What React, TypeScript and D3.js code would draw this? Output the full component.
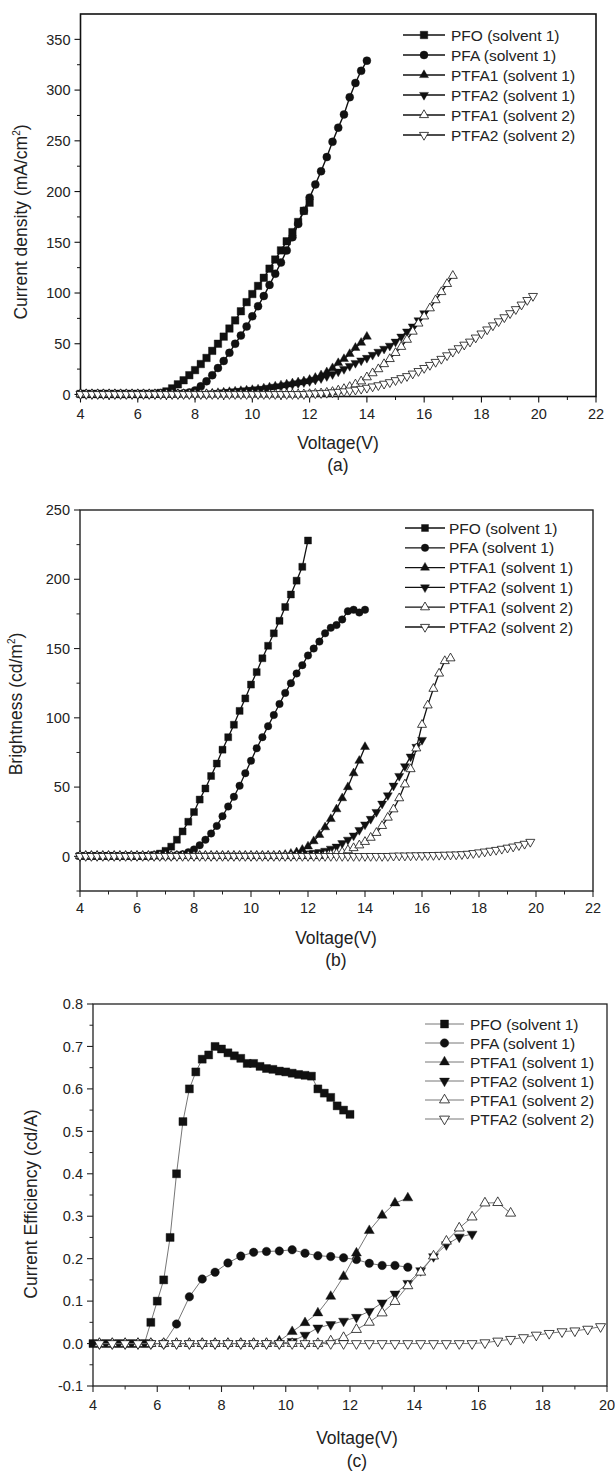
import React from 'react';
import * as d3 from 'd3';

const FONT = "'Liberation Sans', Arial, Helvetica, sans-serif";

// Voltage grid used by panels (a) and (b): 0.2 V steps
const VOLTS = [
  4.0, 4.2, 4.4, 4.6, 4.8, 5.0, 5.2, 5.4, 5.6, 5.8,
  6.0, 6.2, 6.4, 6.6, 6.8, 7.0, 7.2, 7.4, 7.6, 7.8,
  8.0, 8.2, 8.4, 8.6, 8.8, 9.0, 9.2, 9.4, 9.6, 9.8,
  10.0, 10.2, 10.4, 10.6, 10.8, 11.0, 11.2, 11.4, 11.6, 11.8,
  12.0, 12.2, 12.4, 12.6, 12.8, 13.0, 13.2, 13.4, 13.6, 13.8,
  14.0, 14.2, 14.4, 14.6, 14.8, 15.0, 15.2, 15.4, 15.6, 15.8,
  16.0, 16.2, 16.4, 16.6, 16.8, 17.0, 17.2, 17.4, 17.6, 17.8,
  18.0, 18.2, 18.4, 18.6, 18.8, 19.0, 19.2, 19.4, 19.6, 19.8,
];

const SERIES_NAMES = [
  'PFO (solvent 1)',
  'PFA (solvent 1)',
  'PTFA1 (solvent 1)',
  'PTFA2 (solvent 1)',
  'PTFA1 (solvent 2)',
  'PTFA2 (solvent 2)',
];
type Sym = 'square' | 'circle' | 'up' | 'down';
const SERIES_SYMBOLS: Sym[] = ['square', 'circle', 'up', 'down', 'up', 'down'];
const SERIES_FILLED = [true, true, true, true, false, false];

// ---------- (a) Current density (mA/cm2) ----------
const J_PFO = [
  0.5, 0.5, 0.5, 0.5, 0.5, 0.5, 0.5, 0.5, 0.5, 0.5,
  0.5, 0.5, 0.5, 0.8, 1.5, 3, 6, 10, 14, 19,
  24, 30, 36, 43, 50, 57, 65, 73, 82, 91,
  99, 107, 115, 124, 133, 142, 151, 160, 170, 181,
  189,
];
const J_PFA = [
  0.5, 0.5, 0.5, 0.5, 0.5, 0.5, 0.5, 0.5, 0.5, 0.5,
  0.5, 0.5, 0.5, 0.5, 0.5, 0.5, 0.5, 0.8, 1.2, 2,
  4, 8, 13, 19, 26, 33, 41, 50, 58, 67,
  77, 87, 97, 108, 119, 130, 142, 155, 168, 181,
  194, 207, 220, 234, 249, 263, 276, 293, 307, 319,
  329,
];
const J_PTFA1 = [
  0.5, 0.5, 0.5, 0.5, 0.5, 0.5, 0.5, 0.5, 0.5, 0.5,
  0.5, 0.5, 0.5, 0.5, 0.5, 0.5, 0.5, 0.5, 0.5, 0.5,
  0.5, 0.5, 0.5, 1, 1.5, 2, 2.5, 3, 3.5, 4,
  4.5, 5, 6, 7, 8, 9, 10, 11, 12, 13,
  14.5, 16.5, 19, 22, 26, 31, 35, 40, 46, 51,
  57,
];
const J_PTFA2 = [
  0.5, 0.5, 0.5, 0.5, 0.5, 0.5, 0.5, 0.5, 0.5, 0.5,
  0.5, 0.5, 0.5, 0.5, 0.5, 0.5, 0.5, 0.5, 0.5, 0.5,
  0.5, 0.5, 0.5, 1, 1.5, 2, 2.5, 3, 3.5, 4,
  4.5, 5, 5.5, 6.5, 7.5, 8, 9, 10, 11, 12,
  13, 14.5, 16, 18, 20, 22.5, 25, 28, 31, 33.5,
  36, 39, 42, 45, 48, 52, 57, 62, 67, 73,
  80,
];
const J_PTFA1_S2 = [
  0.3, 0.3, 0.3, 0.3, 0.3, 0.3, 0.3, 0.3, 0.3, 0.3,
  0.3, 0.3, 0.3, 0.3, 0.3, 0.3, 0.3, 0.3, 0.3, 0.3,
  0.3, 0.3, 0.3, 0.3, 0.3, 0.3, 0.3, 0.3, 0.3, 0.3,
  0.3, 0.3, 0.3, 0.3, 0.3, 0.3, 0.3, 0.3, 0.3, 0.3,
  0.5, 0.8, 1.2, 1.8, 2.6, 4, 5.5, 7.5, 10, 13,
  17, 21, 25, 30, 35, 41, 47, 54, 62, 70,
  77, 85, 93, 101, 109, 117,
];
const J_PTFA2_S2 = [
  0.3, 0.3, 0.3, 0.3, 0.3, 0.3, 0.3, 0.3, 0.3, 0.3,
  0.3, 0.3, 0.3, 0.3, 0.3, 0.3, 0.3, 0.3, 0.3, 0.3,
  0.3, 0.3, 0.3, 0.3, 0.3, 0.3, 0.3, 0.3, 0.3, 0.3,
  0.3, 0.3, 0.3, 0.3, 0.3, 0.3, 0.3, 0.3, 0.3, 0.3,
  0.8, 1, 1.2, 1.5, 2, 2.5, 3, 3.8, 4.6, 5.5,
  6.5, 7.8, 9, 10.5, 12, 14, 16, 18, 20.5, 23,
  26, 29, 32, 35, 38.5, 42, 45.5, 49, 52, 56,
  60, 64, 68, 72, 76, 80, 84, 88.5, 93, 97,
];

// ---------- (b) Brightness (cd/m2) ----------
const B_PFO = [
  0.3, 0.3, 0.3, 0.3, 0.3, 0.3, 0.3, 0.3, 0.3, 0.3,
  0.3, 0.3, 0.3, 1, 2, 4, 7, 12, 18, 25,
  32, 41, 49, 58, 67, 77, 86, 95, 105, 114,
  124, 133, 143, 152, 161, 170, 180, 189, 199, 209,
  228,
];
const B_PFA = [
  0.3, 0.3, 0.3, 0.3, 0.3, 0.3, 0.3, 0.3, 0.3, 0.3,
  0.3, 0.3, 0.3, 0.3, 0.3, 0.3, 0.3, 1, 1.5, 3,
  5, 8, 12, 16.5, 22, 29, 36, 43, 51, 60,
  69, 78, 86, 94, 102, 110, 118, 125, 132, 138,
  145, 150, 155, 161, 165, 167, 171, 177, 178, 176,
  178,
];
const B_PTFA1 = [
  0.5, 0.5, 0.5, 0.5, 0.5, 0.5, 0.5, 0.5, 0.5, 0.5,
  0.5, 0.5, 0.5, 0.5, 0.5, 0.5, 0.5, 0.5, 0.5, 0.5,
  0.5, 0.5, 0.5, 0.5, 0.5, 0.5, 0.5, 0.5, 0.5, 0.5,
  0.5, 0.5, 0.5, 0.5, 0.5, 0.8, 1.2, 2, 3, 4.8,
  7.2, 11, 15.5, 21, 27, 34, 42, 50, 60, 69,
  79,
];
const B_PTFA2 = [
  0.5, 0.5, 0.5, 0.5, 0.5, 0.5, 0.5, 0.5, 0.5, 0.5,
  0.5, 0.5, 0.5, 0.5, 0.5, 0.5, 0.5, 0.5, 0.5, 0.5,
  0.5, 0.5, 0.5, 0.5, 0.5, 0.5, 0.5, 0.5, 0.5, 0.5,
  0.5, 0.5, 0.5, 0.5, 0.5, 0.5, 0.5, 0.5, 1, 1.5,
  2, 2.5, 3, 4, 5.5, 7, 9.5, 12, 15, 19,
  23, 27, 32, 38, 44, 51, 58, 65, 72, 79,
  84,
];
const B_PTFA1_S2 = [
  0.3, 0.3, 0.3, 0.3, 0.3, 0.3, 0.3, 0.3, 0.3, 0.3,
  0.3, 0.3, 0.3, 0.3, 0.3, 0.3, 0.3, 0.3, 0.3, 0.3,
  0.3, 0.3, 0.3, 0.3, 0.3, 0.3, 0.3, 0.3, 0.3, 0.3,
  0.3, 0.3, 0.3, 0.3, 0.3, 0.3, 0.3, 0.3, 0.3, 0.3,
  0.3, 0.3, 0.3, 1, 1.3, 2, 3, 4.5, 6, 8,
  10.5, 13.5, 17, 22, 28, 34, 42, 52, 63, 78,
  95, 109, 121, 132, 141, 143,
];
const B_PTFA2_S2 = [
  0.2, 0.2, 0.2, 0.2, 0.2, 0.2, 0.2, 0.2, 0.2, 0.2,
  0.2, 0.2, 0.2, 0.2, 0.2, 0.2, 0.2, 0.2, 0.2, 0.2,
  0.2, 0.2, 0.2, 0.2, 0.2, 0.2, 0.2, 0.2, 0.2, 0.2,
  0.2, 0.2, 0.2, 0.2, 0.2, 0.2, 0.2, 0.2, 0.2, 0.2,
  0.2, 0.2, 0.2, 0.2, 0.2, 0.2, 0.2, 0.2, 0.2, 0.2,
  0.2, 0.2, 0.2, 0.2, 0.2, 0.4, 0.5, 0.5, 0.6, 0.7,
  0.7, 0.8, 0.9, 1, 1.1, 1.2, 1.3, 1.5, 1.8, 2.3,
  2.8, 3.4, 4, 4.6, 5.4, 6.2, 7, 8, 9, 10.4,
];

// ---------- (c) Current efficiency (cd/A) ----------
const CE_PFO_X = [
  4.0, 4.4, 4.8, 5.2, 5.6, 5.8, 6.0, 6.2, 6.4, 6.6, 6.8, 7.0, 7.2, 7.4, 7.6, 7.8,
  8.0, 8.2, 8.4, 8.6, 8.8, 9.0, 9.2, 9.4, 9.6, 9.8, 10.0, 10.2, 10.4, 10.6, 10.8,
  11.0, 11.2, 11.4, 11.6, 11.8, 12.0,
];
const CE_PFO_Y = [
  0, 0, 0, 0, 0, 0.05, 0.10, 0.15, 0.25, 0.40, 0.523, 0.60, 0.64, 0.67, 0.68, 0.70,
  0.694, 0.685, 0.678, 0.672, 0.66, 0.66, 0.653, 0.648, 0.646, 0.642, 0.64, 0.637, 0.634, 0.632, 0.63,
  0.60, 0.59, 0.58, 0.56, 0.55, 0.54,
];
const CE_PFA_X = [
  4.2, 4.6, 5.0, 5.4, 5.8, 6.2, 6.6, 7.0, 7.4, 7.8, 8.2, 8.6, 9.0, 9.4, 9.8,
  10.2, 10.6, 11.0, 11.4, 11.8, 12.2, 12.6, 13.0, 13.4, 13.8,
];
const CE_PFA_Y = [
  0, 0, 0, 0, 0, 0, 0.046, 0.11, 0.152, 0.168, 0.19, 0.206, 0.215, 0.217, 0.218,
  0.221, 0.213, 0.207, 0.205, 0.202, 0.198, 0.189, 0.184, 0.184, 0.18,
];
const CE_PTFA1_X = [
  4.2, 4.6, 5.0, 5.4, 5.8, 6.2, 6.6, 7.0, 7.4, 7.8, 8.2, 8.6, 9.0, 9.4, 9.8,
  10.2, 10.6, 11.0, 11.4, 11.8, 12.2, 12.6, 13.0, 13.4, 13.8,
];
const CE_PTFA1_Y = [
  0, 0, 0, 0, 0, 0, 0, 0, 0, 0, 0, 0, 0, 0, 0.006,
  0.028, 0.049, 0.072, 0.111, 0.158, 0.213, 0.266, 0.302, 0.331, 0.343,
];
const CE_PTFA2_X = [
  4.2, 4.6, 5.0, 5.4, 5.8, 6.2, 6.6, 7.0, 7.4, 7.8, 8.2, 8.6, 9.0, 9.4, 9.8,
  10.2, 10.6, 11.0, 11.4, 11.8, 12.2, 12.6, 13.0, 13.4, 13.8, 14.2, 14.6, 15.0, 15.4, 15.8,
];
const CE_PTFA2_Y = [
  0, 0, 0, 0, 0, 0, 0, 0, 0, 0, 0, 0, 0, 0, 0,
  0.005, 0.02, 0.037, 0.045, 0.053, 0.062, 0.076, 0.096, 0.117, 0.142, 0.172, 0.205, 0.233, 0.251, 0.258,
];
const CE_PTFA1_S2_X = [
  4.2, 4.6, 5.0, 5.4, 5.8, 6.2, 6.6, 7.0, 7.4, 7.8, 8.2, 8.6, 9.0, 9.4, 9.8,
  10.2, 10.6, 11.0, 11.4, 11.8, 12.2, 12.6, 13.0, 13.4, 13.8, 14.2, 14.6, 15.0, 15.4, 15.8,
  16.2, 16.6, 17.0,
];
const CE_PTFA1_S2_Y = [
  0, 0, 0, 0, 0, 0, 0, 0, 0, 0, 0, 0, 0, 0, 0,
  0, 0, 0, 0.006, 0.014, 0.033, 0.05, 0.072, 0.099, 0.136, 0.168, 0.206, 0.241, 0.272, 0.298,
  0.331, 0.332, 0.307,
];
const CE_PTFA2_S2_X = [
  4.2, 4.6, 5.0, 5.4, 5.8, 6.2, 6.6, 7.0, 7.4, 7.8, 8.2, 8.6, 9.0, 9.4, 9.8,
  10.2, 10.6, 11.0, 11.4, 11.8, 12.2, 12.6, 13.0, 13.4, 13.8, 14.2, 14.6, 15.0, 15.4, 15.8,
  16.2, 16.6, 17.0, 17.4, 17.8, 18.2, 18.6, 19.0, 19.4, 19.8,
];
const CE_PTFA2_S2_Y = [
  0, 0, 0, 0, 0, 0, 0, 0, 0, 0, 0, 0, 0, 0, 0,
  0, 0, 0, 0, 0, 0, 0, 0, 0, 0, 0, 0, 0, 0, 0,
  0.002, 0.006, 0.01, 0.014, 0.02, 0.024, 0.028, 0.03, 0.034, 0.04,
];

// ---------- ticks ----------
const X_TICKS_AB = [4, 6, 8, 10, 12, 14, 16, 18, 20, 22];
const X_MINOR_AB = [5, 7, 9, 11, 13, 15, 17, 19, 21];
const J_TICKS = [0, 50, 100, 150, 200, 250, 300, 350];
const J_MINOR = [25, 75, 125, 175, 225, 275, 325];
const B_TICKS = [0, 50, 100, 150, 200, 250];
const B_MINOR = [-25, 25, 75, 125, 175, 225];
const X_TICKS_C = [4, 6, 8, 10, 12, 14, 16, 18, 20];
const X_MINOR_C = [5, 7, 9, 11, 13, 15, 17, 19];
const CE_TICKS = [-0.1, 0, 0.1, 0.2, 0.3, 0.4, 0.5, 0.6, 0.7, 0.8];
const CE_MINOR = [-0.05, 0.05, 0.15, 0.25, 0.35, 0.45, 0.55, 0.65, 0.75];

type SeriesData = { x: number[]; y: number[] };

const volts = (ys: number[]) => VOLTS.slice(0, ys.length);

const SERIES_A: SeriesData[] = [J_PFO, J_PFA, J_PTFA1, J_PTFA2, J_PTFA1_S2, J_PTFA2_S2].map((ys) => ({ x: volts(ys), y: ys }));
const SERIES_B: SeriesData[] = [B_PFO, B_PFA, B_PTFA1, B_PTFA2, B_PTFA1_S2, B_PTFA2_S2].map((ys) => ({ x: volts(ys), y: ys }));
const SERIES_C: SeriesData[] = [
  { x: CE_PFO_X, y: CE_PFO_Y },
  { x: CE_PFA_X, y: CE_PFA_Y },
  { x: CE_PTFA1_X, y: CE_PTFA1_Y },
  { x: CE_PTFA2_X, y: CE_PTFA2_Y },
  { x: CE_PTFA1_S2_X, y: CE_PTFA1_S2_Y },
  { x: CE_PTFA2_S2_X, y: CE_PTFA2_S2_Y },
];

function symbolPath(sym: Sym, sizes: { sq: number; ci: number; tr: number }): string {
  if (sym === 'square') return d3.symbol(d3.symbolSquare, sizes.sq * sizes.sq)() as string;
  if (sym === 'circle') return d3.symbol(d3.symbolCircle, Math.PI * (sizes.ci / 2) ** 2)() as string;
  return d3.symbol(d3.symbolTriangle, (Math.sqrt(3) / 4) * sizes.tr * sizes.tr)() as string;
}

type PanelCfg = {
  id: string;
  left: number; right: number; top: number; bottom: number;
  xDomain: [number, number]; yDomain: [number, number];
  xTicks: number[]; xMinor: number[]; yTicks: number[]; yMinor: number[];
  yFmt: (v: number) => string;
  series: SeriesData[];
  yTitle: React.ReactNode; yTitleX: number; yTitleY: number;
  xTitleX: number; xTitleY: number; capY: number; caption: string;
  xLabelDy: number;
  legend: { x0: number; x1: number; tx: number; y0: number; dy: number };
  lineColor: string; lineWidth: number; frameWidth: number; frameColor: string;
  sizes: { sq: number; ci: number; tr: number };
  markerStroke: number;
};

function Panel({ p }: { p: PanelCfg }) {
  const x = d3.scaleLinear().domain(p.xDomain).range([p.left, p.right]);
  const y = d3.scaleLinear().domain(p.yDomain).range([p.bottom, p.top]);
  const line = d3.line<[number, number]>().x((d) => x(d[0])).y((d) => y(d[1]));
  const textColor = '#222';
  const tickLen = 6;
  const minorLen = 3.5;

  const marker = (i: number, cx: number, cy: number, key: string) => {
    const sym = SERIES_SYMBOLS[i];
    const filled = SERIES_FILLED[i];
    return (
      <path
        key={key}
        d={symbolPath(sym, p.sizes)}
        transform={`translate(${cx},${cy})${sym === 'down' ? ' rotate(180)' : ''}`}
        fill={filled ? '#111' : '#fff'}
        stroke="#111"
        strokeWidth={filled ? 0.4 : p.markerStroke}
      />
    );
  };

  return (
    <g>
      <rect x={p.left} y={p.top} width={p.right - p.left} height={p.bottom - p.top}
        fill="none" stroke={p.frameColor} strokeWidth={p.frameWidth} />
      {p.yTicks.map((t) => (
        <g key={`yt${t}`}>
          <line x1={p.left - tickLen} x2={p.left} y1={y(t)} y2={y(t)} stroke={p.frameColor} strokeWidth={1.1} />
          <text x={p.left - 10} y={y(t)} dy="0.36em" textAnchor="end" fontSize={14.5} fill={textColor} fontFamily={FONT}>
            {p.yFmt(t)}
          </text>
        </g>
      ))}
      {p.yMinor.map((t) => (
        <line key={`ym${t}`} x1={p.left - minorLen} x2={p.left} y1={y(t)} y2={y(t)} stroke={p.frameColor} strokeWidth={1} />
      ))}
      {p.xTicks.map((t) => (
        <g key={`xt${t}`}>
          <line x1={x(t)} x2={x(t)} y1={p.bottom} y2={p.bottom + tickLen} stroke={p.frameColor} strokeWidth={1.1} />
          <text x={x(t)} y={p.bottom + p.xLabelDy} textAnchor="middle" fontSize={14.5} fill={textColor} fontFamily={FONT}>
            {t}
          </text>
        </g>
      ))}
      {p.xMinor.map((t) => (
        <line key={`xm${t}`} x1={x(t)} x2={x(t)} y1={p.bottom} y2={p.bottom + minorLen} stroke={p.frameColor} strokeWidth={1} />
      ))}
      {p.series.map((s, i) => {
        const pts: [number, number][] = s.x.map((v, k) => [v, s.y[k]]);
        return (
          <g key={`s${i}`}>
            <path d={line(pts) as string} fill="none" stroke={p.lineColor} strokeWidth={p.lineWidth} />
            {pts.map((d, k) => marker(i, x(d[0]), y(d[1]), `m${i}-${k}`))}
          </g>
        );
      })}
      {SERIES_NAMES.map((name, i) => {
        const ly = p.legend.y0 + i * p.legend.dy;
        return (
          <g key={`lg${i}`}>
            <line x1={p.legend.x0} x2={p.legend.x1} y1={ly} y2={ly} stroke={p.lineColor} strokeWidth={p.lineWidth} />
            {marker(i, (p.legend.x0 + p.legend.x1) / 2, ly, `lm${i}`)}
            <text x={p.legend.tx} y={ly} dy="0.36em" fontSize={15.5} fill={textColor} fontFamily={FONT}>{name}</text>
          </g>
        );
      })}
      <text transform={`translate(${p.yTitleX},${p.yTitleY}) rotate(-90)`} textAnchor="middle" fontSize={17.5} fill={textColor} fontFamily={FONT}>
        {p.yTitle}
      </text>
      <text x={p.xTitleX} y={p.xTitleY} textAnchor="middle" fontSize={17.5} fill={textColor} fontFamily={FONT}>Voltage(V)</text>
      <text x={p.xTitleX} y={p.capY} textAnchor="middle" fontSize={17.5} fill={textColor} fontFamily={FONT}>{p.caption}</text>
    </g>
  );
}

const PANEL_A: PanelCfg = {
  id: 'a', left: 80.5, right: 596, top: 14, bottom: 396.5,
  xDomain: [4, 22], yDomain: [-2, 375],
  xTicks: X_TICKS_AB, xMinor: X_MINOR_AB, yTicks: J_TICKS, yMinor: J_MINOR,
  yFmt: (v) => String(v), series: SERIES_A,
  yTitle: (<>Current density (mA/cm<tspan dy={-7} fontSize={10}>2</tspan><tspan dy={7}>)</tspan></>),
  yTitleX: 27, yTitleY: 222,
  xTitleX: 338, xTitleY: 449, capY: 471, caption: '(a)', xLabelDy: 22,
  legend: { x0: 403, x1: 445, tx: 451, y0: 35, dy: 20 },
  lineColor: '#111', lineWidth: 1.4, frameWidth: 1.6, frameColor: '#111',
  sizes: { sq: 7.5, ci: 8, tr: 9 }, markerStroke: 0.8,
};

const PANEL_B: PanelCfg = {
  id: 'b', left: 80, right: 593, top: 510, bottom: 891,
  xDomain: [4, 22], yDomain: [-25, 250],
  xTicks: X_TICKS_AB, xMinor: X_MINOR_AB, yTicks: B_TICKS, yMinor: B_MINOR,
  yFmt: (v) => String(v), series: SERIES_B,
  yTitle: (<>Brightness (cd/m<tspan dy={-7} fontSize={10}>2</tspan><tspan dy={7}>)</tspan></>),
  yTitleX: 22, yTitleY: 704,
  xTitleX: 336, xTitleY: 944, capY: 966, caption: '(b)', xLabelDy: 22,
  legend: { x0: 405, x1: 445, tx: 449, y0: 528, dy: 19.8 },
  lineColor: '#111', lineWidth: 1.3, frameWidth: 1.4, frameColor: '#222',
  sizes: { sq: 7, ci: 7.5, tr: 9 }, markerStroke: 0.8,
};

const PANEL_C: PanelCfg = {
  id: 'c', left: 93, right: 607, top: 1004, bottom: 1386,
  xDomain: [4, 20], yDomain: [-0.1, 0.8],
  xTicks: X_TICKS_C, xMinor: X_MINOR_C, yTicks: CE_TICKS, yMinor: CE_MINOR,
  yFmt: (v) => v.toFixed(1), series: SERIES_C,
  yTitle: 'Current Efficiency (cd/A)',
  yTitleX: 37, yTitleY: 1204,
  xTitleX: 357, xTitleY: 1444, capY: 1467, caption: '(c)', xLabelDy: 24,
  legend: { x0: 425, x1: 464, tx: 470, y0: 1024, dy: 19 },
  lineColor: '#666', lineWidth: 0.9, frameWidth: 1.3, frameColor: '#222',
  sizes: { sq: 8, ci: 8.5, tr: 10 }, markerStroke: 0.8,
};

export default function App() {
  return (
    <svg width={615} height={1472} viewBox="0 0 615 1472"
      style={{ position: 'absolute', left: 0, top: 0, background: '#fff' }}
      xmlns="http://www.w3.org/2000/svg">
      <rect x={0} y={0} width={615} height={1472} fill="#fff" />
      <Panel p={PANEL_A} />
      <Panel p={PANEL_B} />
      <Panel p={PANEL_C} />
    </svg>
  );
}
